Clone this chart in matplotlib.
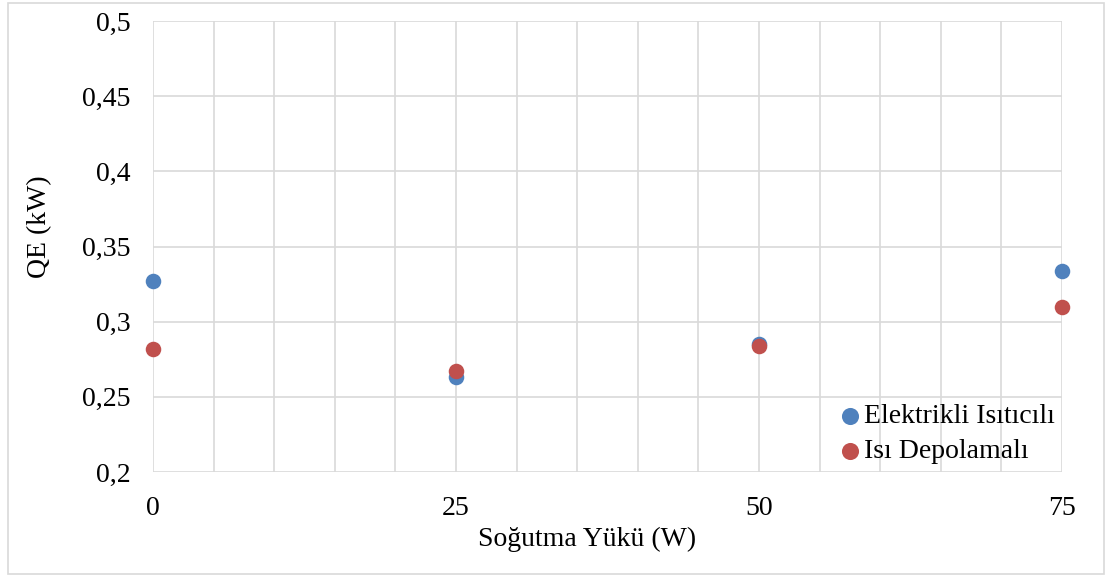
import matplotlib
matplotlib.use("Agg")
import matplotlib.pyplot as plt
from matplotlib.patches import Rectangle
from matplotlib.ticker import FixedLocator, FuncFormatter

x_vals = [0, 25, 50, 75]
elektrikli = [0.327, 0.263, 0.285, 0.334]
isi_depolamali = [0.282, 0.267, 0.284, 0.310]
y_ticks = [0.2, 0.25, 0.3, 0.35, 0.4, 0.45, 0.5]
x_label_ticks = [0, 25, 50, 75]

plt.rcParams['font.family'] = ['Liberation Serif', 'DejaVu Serif']

W, H = 1109, 577
fig = plt.figure(figsize=(W / 100, H / 100), dpi=100)
ax = fig.add_axes([153 / W, 1 - 472 / H, (1062 - 153) / W, (472 - 21) / H])

fig.patches.append(Rectangle((8 / W, 3 / H), (1104 - 8) / W, (574 - 3) / H,
                             transform=fig.transFigure, fill=False,
                             edgecolor='#D9D9D9', linewidth=1.2))

ax.scatter(x_vals, elektrikli, s=125, color='#4F81BD', label='Elektrikli Isıtıcılı',
           zorder=3, linewidths=0, clip_on=False)
ax.scatter(x_vals, isi_depolamali, s=125, color='#C0504D', label='Isı Depolamalı',
           zorder=3, linewidths=0, clip_on=False)

ax.set_xlim(0, 75)
ax.set_ylim(0.2, 0.5)
ax.xaxis.set_major_locator(FixedLocator(list(range(0, 76, 5))))
ax.xaxis.set_major_formatter(FuncFormatter(lambda v, p: f"{int(round(v))}" if int(round(v)) in x_label_ticks else ""))
ax.set_yticks(y_ticks)
ax.set_yticklabels([f"{t:g}".replace('.', ',') for t in y_ticks])
ax.tick_params(axis='both', length=0, labelsize=20, colors='black')
ax.tick_params(axis='y', pad=16)
ax.tick_params(axis='x', pad=17)
ax.grid(True, color='#D9D9D9', linewidth=1.2)
ax.set_axisbelow(True)
for s in ax.spines.values():
    s.set_visible(False)

ax.set_xlabel('Soğutma Yükü (W)', fontsize=20)
ax.xaxis.label.set_va('center')
ax.xaxis.set_label_coords((587 - 153) / 909, (472 - 539) / 451)
ax.set_ylabel('QE (kW)', fontsize=20)
ax.yaxis.label.set_va('center')
ax.yaxis.label.set_ha('center')
ax.yaxis.set_label_coords((40 - 153) / 909, (472 - 227) / 451)

leg = ax.legend(loc='lower right', frameon=False, fontsize=20, handletextpad=0.0,
                borderaxespad=0.0, labelspacing=0.35, handlelength=1.0,
                markerscale=1.1, bbox_to_anchor=(1.004, -0.007))

fig.savefig('out.png', dpi=100)
